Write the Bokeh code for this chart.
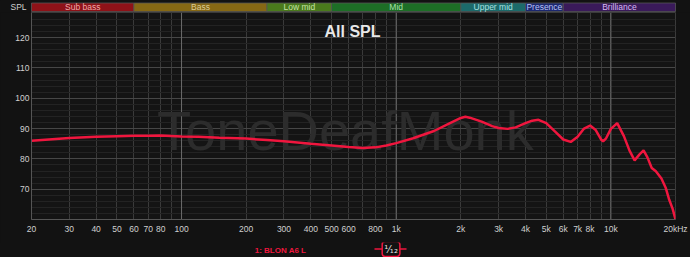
from bokeh.plotting import figure
from bokeh.layouts import column
from bokeh.models import FixedTicker, Label, Span, Range1d
from bokeh.core.properties import value
from bokeh.embed import file_html
from bokeh.resources import INLINE

# ---- data ----
freq = [20, 25, 30, 40, 50, 60, 70, 80, 100, 120, 150, 200, 250, 300, 400, 500,
        600, 700, 800, 900, 1000, 1200, 1500, 1800, 2000, 2100, 2200, 2500, 2800,
        3000, 3300, 3600, 4000, 4300, 4600, 5000, 5500, 6000, 6500, 7000, 7500,
        8000, 8500, 9000, 9200, 9500, 10000, 10700, 11500, 12200, 12900, 13600,
        14200, 14800, 15500, 16200, 17200, 18000, 18700, 19400, 20000]
spl = [86.0, 86.5, 86.9, 87.3, 87.5, 87.6, 87.6, 87.7, 87.4, 87.3, 87.0, 86.7,
       86.2, 85.8, 85.0, 84.4, 83.9, 83.6, 83.8, 84.4, 85.2, 86.8, 89.2, 92.0,
       93.5, 93.9, 93.6, 92.3, 90.8, 90.2, 89.9, 90.4, 91.8, 92.6, 92.9, 91.8,
       89.0, 86.4, 85.6, 87.3, 90.0, 91.0, 89.5, 86.4, 85.8, 86.8, 89.9, 91.8,
       87.5, 82.8, 79.5, 81.5, 82.8, 80.5, 77.0, 75.9, 73.5, 70.5, 66.5, 63.5, 60.0]

band_names = ["Sub bass", "Bass", "Low mid", "Mid", "Upper mid", "Presence", "Brilliance"]
band_lo = [20, 60, 250, 500, 2000, 4000, 6000]
band_hi = [60, 250, 500, 2000, 4000, 6000, 20000]
band_colors = ["#8e1218", "#866814", "#4a7a1c", "#1d6e26", "#1c6a6a", "#1c2870", "#3a1a5a"]
band_text_colors = ["#eeaaaa", "#dccb95", "#c4e2a4", "#a8e0a8", "#a8e0e0", "#b8c0f4", "#d6b8f4"]

x_tick_values = [20, 30, 40, 50, 60, 70, 80, 100, 200, 300, 400, 500, 600, 800,
                 1000, 2000, 3000, 4000, 5000, 6000, 7000, 8000, 10000, 20000]
x_tick_labels = ["20", "30", "40", "50", "60", "70", "80", "100", "200", "300",
                 "400", "500", "600", "800", "1k", "2k", "3k", "4k", "5k", "6k",
                 "7k", "8k", "10k", "20kHz"]
x_grid_values = [20, 30, 40, 50, 60, 70, 80, 90, 100, 200, 300, 400, 500, 600,
                 700, 800, 900, 1000, 2000, 3000, 4000, 5000, 6000, 7000, 8000,
                 9000, 10000, 20000]
decade_lines = [100, 1000, 10000]
y_tick_values = [70, 80, 90, 100, 110, 120]
y_minor_values = list(range(62, 128, 2))

legend_name = "1: BLON A6 L"
smoothing_label = "\u00b9\u2044\u2081\u2082"

FONT = "Liberation Sans"
BG = "#121212"
RED = "#f0163e"
W = 690
LEFT, RIGHT = 31, 15
PX_PER_DECADE = (W - LEFT - RIGHT) / 3.0
# full-width log range equivalent to the main plot's 20 Hz - 20 kHz frame
full_lo = 20 * 10 ** (-LEFT / PX_PER_DECADE)
full_hi = 20000 * 10 ** (RIGHT / PX_PER_DECADE)


def no_align(f):
    try:
        f.frame_align = False
    except Exception:
        pass


def strip(height, y_end):
    f = figure(width=W, height=height, x_axis_type="log",
               x_range=Range1d(full_lo, full_hi), y_range=Range1d(0, y_end),
               output_backend="svg", toolbar_location=None,
               x_axis_location=None, y_axis_location=None,
               min_border_left=0, min_border_right=0, min_border_top=0,
               min_border_bottom=0)
    f.grid.visible = False
    f.background_fill_color = BG
    f.border_fill_color = BG
    f.outline_line_color = None
    f.styles = {"background-color": BG}
    no_align(f)
    return f


# ---- top strip: frequency bands ----
top = strip(12, 12)
top.quad(left=band_lo, right=band_hi, bottom=1, top=9.5,
         fill_color=band_colors, line_color="#555555", line_width=0.8)
band_mid = [(lo * hi) ** 0.5 for lo, hi in zip(band_lo, band_hi)]
top.text(x=band_mid, y=[5.3] * len(band_mid), text=band_names,
         text_color=band_text_colors, text_font=value(FONT), text_font_size="8.5px",
         text_align="center", text_baseline="middle")
top.text(x=[17.4], y=[5.3], text=["SPL"], text_color="#d0d0d0",
         text_font=value(FONT), text_font_size="8.5px",
         text_align="center", text_baseline="middle")

# ---- main plot ----
p = figure(width=W, height=230, x_axis_type="log",
           x_range=Range1d(20, 20000), y_range=Range1d(60, 128.3),
           output_backend="svg", toolbar_location=None,
           min_border_left=LEFT, min_border_right=RIGHT, min_border_top=0,
           min_border_bottom=23)
no_align(p)
p.styles = {"background-color": BG}
p.background_fill_color = "#141414"
p.border_fill_color = BG
p.outline_line_color = "#3a3a3a"

p.xgrid.ticker = FixedTicker(ticks=x_grid_values)
p.xgrid.grid_line_color = "#3a3a3a"
p.ygrid.ticker = FixedTicker(ticks=y_tick_values, minor_ticks=y_minor_values)
p.ygrid.grid_line_color = "#474747"
p.ygrid.minor_grid_line_color = "#232323"
for d in decade_lines:
    p.add_layout(Span(location=d, dimension="height", line_color="#6a6a6a",
                      line_width=1, level="underlay"))

p.xaxis.ticker = FixedTicker(ticks=x_tick_values)
p.xaxis.major_label_overrides = {v: t for v, t in zip(x_tick_values, x_tick_labels)}
p.yaxis.ticker = FixedTicker(ticks=y_tick_values)
for ax in (p.xaxis, p.yaxis):
    ax.axis_line_color = "#555555"
    ax.major_tick_line_color = None
    ax.minor_tick_line_color = None
    ax.major_tick_out = 0
    ax.major_tick_in = 0
    ax.major_label_text_color = "#d0d0d0"
    ax.major_label_text_font = FONT
    ax.major_label_text_font_size = "8.5px"
p.xaxis.major_label_standoff = 4
p.yaxis.major_label_standoff = 2

p.add_layout(Label(x=580, y=89.5, text="ToneDeafMonk", text_font=FONT,
                   text_font_size="56px", text_color="#2c2c2c",
                   text_align="center", text_baseline="alphabetic", level="underlay"))

p.line(freq, spl, line_color=RED, line_width=2.5)

p.add_layout(Label(x=626, y=121.9, text="All SPL", text_font=FONT,
                   text_font_style="bold", text_font_size="16px",
                   text_color="#e8e8e8", text_align="center",
                   text_baseline="alphabetic"))

# ---- bottom strip: legend ----
bot = strip(15, 15)
bot.text(x=[289], y=[7.5], text=[legend_name], text_color=RED,
         text_font=value(FONT), text_font_style="bold", text_font_size="8px",
         text_align="center", text_baseline="middle")
# legend swatch line behind the smoothing badge
bot.segment(x0=[792], x1=[1117], y0=[8.5], y1=[8.5], line_color=RED, line_width=1.5)
bot.add_layout(Label(x=946, y=8.5, text=smoothing_label, text_font="DejaVu Sans",
                     text_font_size="10px", text_color="#e0e0e0",
                     background_fill_color=BG, border_line_color=RED,
                     border_line_width=1.5, border_radius=3, padding=2,
                     text_align="center", text_baseline="middle"))

layout = column(top, p, bot, spacing=0)
layout.styles = {"background-color": BG}
open("out.html", "w").write(file_html(layout, INLINE))
